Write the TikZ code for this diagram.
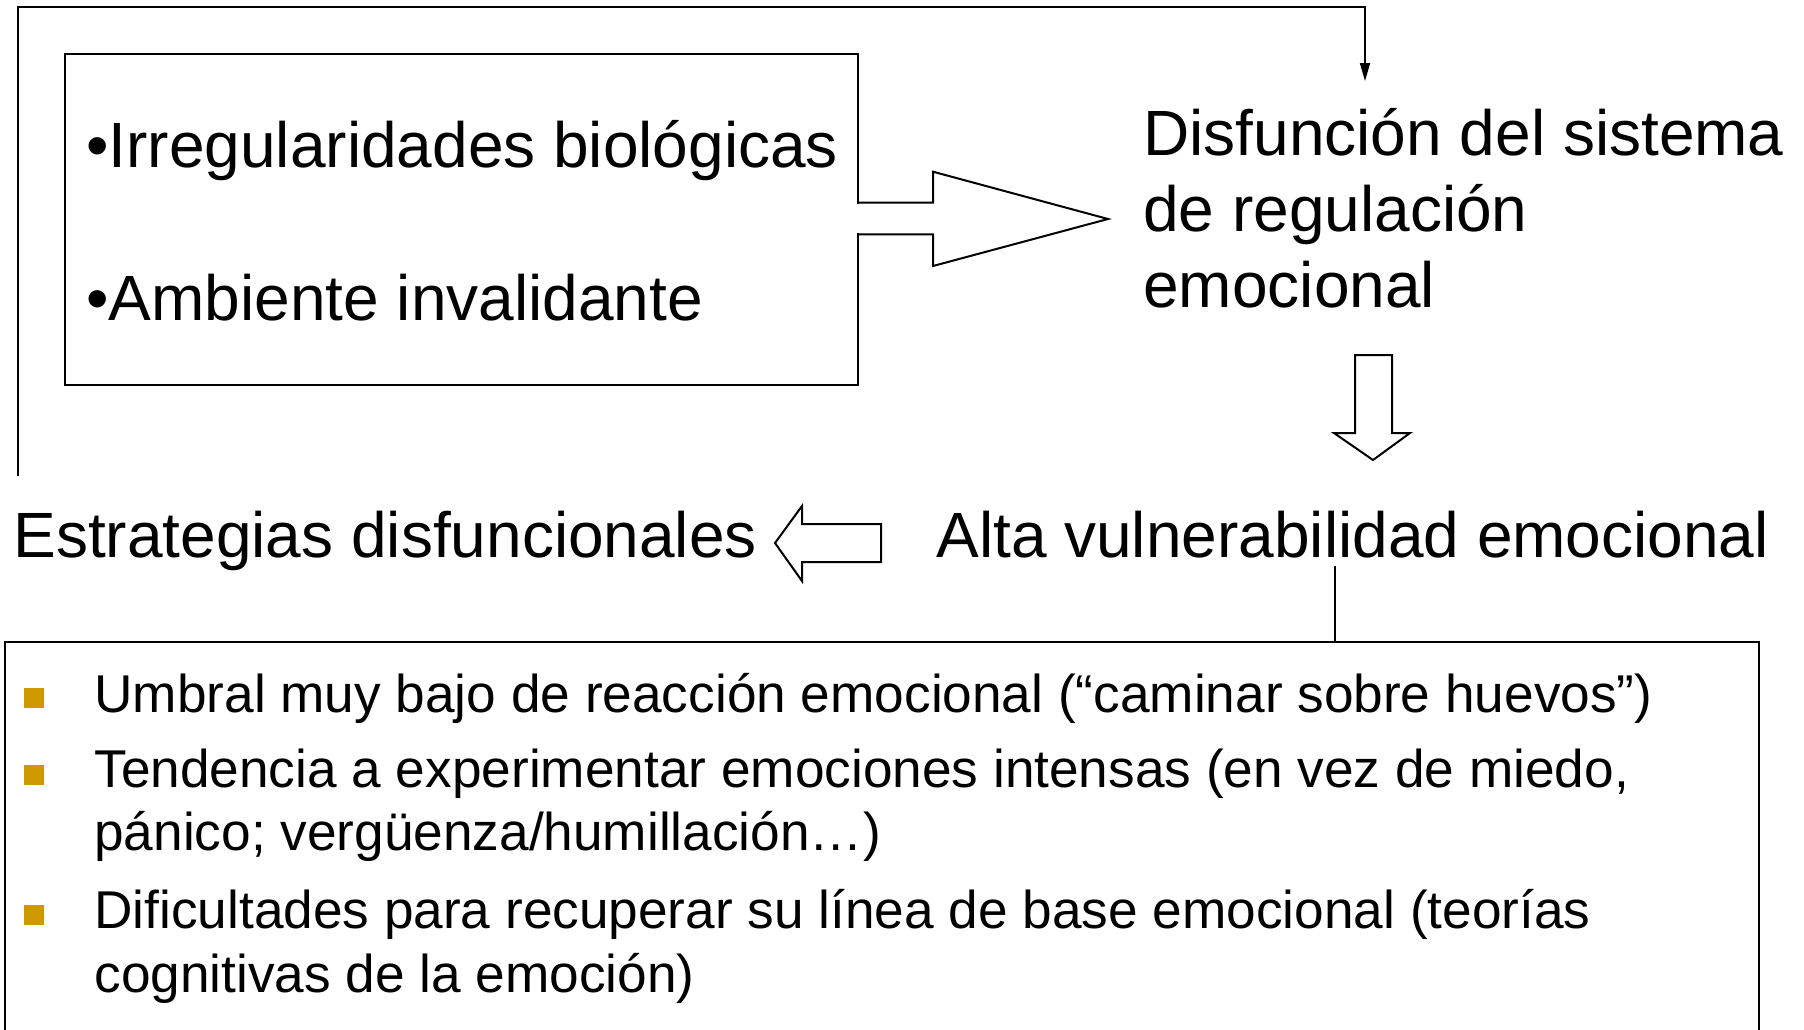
\documentclass[tikz,border=0pt]{standalone}
\usepackage{fontspec}
\setmainfont{Liberation Sans}
\usetikzlibrary{arrows.meta}
\definecolor{bulletgold}{RGB}{204,153,0}
\begin{document}
\begin{tikzpicture}[x=0.5pt,y=-0.5pt,
  big/.style={font=\fontsize{32}{38}\selectfont, inner sep=0pt, anchor=base west},
  small/.style={font=\fontsize{26.6}{32}\selectfont, inner sep=0pt, anchor=base west},
  stroke/.style={line width=1pt, draw=black, line join=miter},
  fb/.style={line width=0.9pt, draw=black},
  sq/.style={fill=bulletgold, draw=none, minimum size=10pt, inner sep=0pt, anchor=north west},
  frame/.style={draw=black, line width=1pt, inner sep=0pt, anchor=north west}]
\useasboundingbox (0,0) rectangle (1804,1029);

% top-left box
\node[frame, minimum width=396.5pt, minimum height=165.5pt] (box1) at (64,53) {};
\node[big] (irr) at (86,167) {•Irregularidades biológicas};
\node[big] (amb) at (86,320) {•Ambiente invalidante};

% big arrow from box to "Disfunción"
\fill[white] (855,204) rectangle (860,233);
\draw[stroke] (857,202.7) -- (933,202.7) -- (933,171.7) -- (1108,219)
  -- (933,266) -- (933,234.3) -- (857,234.3);

% Disfuncion text
\node[big] (dis1) at (1143,155) {Disfunción del sistema};
\node[big] (dis2) at (1143,231) {de regulación};
\node[big] (dis3) at (1143,307) {emocional};

% feedback connector
\coordinate (fbstart) at (18,476);
\coordinate (fbtip) at (1365,81);
\draw[fb, -{Triangle[length=9pt,width=5pt]}] (fbstart) -- (18,7) -- (fbtip |- 0,7) -- (fbtip);

% down arrow
\draw[stroke, fill=white] (1355,355) -- (1392,355) -- (1392,433) -- (1410,433)
  -- (1373,460) -- (1334,433) -- (1355,433) -- cycle;

% row texts
\node[big] (est) at (13,557) {Estrategias disfuncionales};
\node[big] (alta) at (936,557) {Alta vulnerabilidad emocional};

% left arrow
\draw[stroke, fill=white] (881,524) -- (802,524) -- (802,506) -- (775,543)
  -- (802,581) -- (802,562) -- (881,562) -- cycle;

% bottom box (clipped by page)
\node[frame, minimum width=877pt, minimum height=250pt] (lowbox) at (4,641) {};
\coordinate (altaL) at (1335,566);
\draw[fb] (altaL) -- (altaL |- lowbox.north);

% bullets
\node[sq] (b1) at (24,688) {};
\node[sq] (b2) at (24,765) {};
\node[sq] (b3) at (24,905) {};
\node[small] (t1) at (94,712) {Umbral muy bajo de reacción emocional (“caminar sobre huevos”)};
\node[small] (t2) at (94,787) {Tendencia a experimentar emociones intensas (en vez de miedo,};
\node[small] (t2b) at (94,850) {pánico; vergüenza/humillación…)};
\node[small] (t3) at (94,928) {Dificultades para recuperar su línea de base emocional (teorías};
\node[small] (t3b) at (94,992) {cognitivas de la emoción)};
\end{tikzpicture}
\end{document}
